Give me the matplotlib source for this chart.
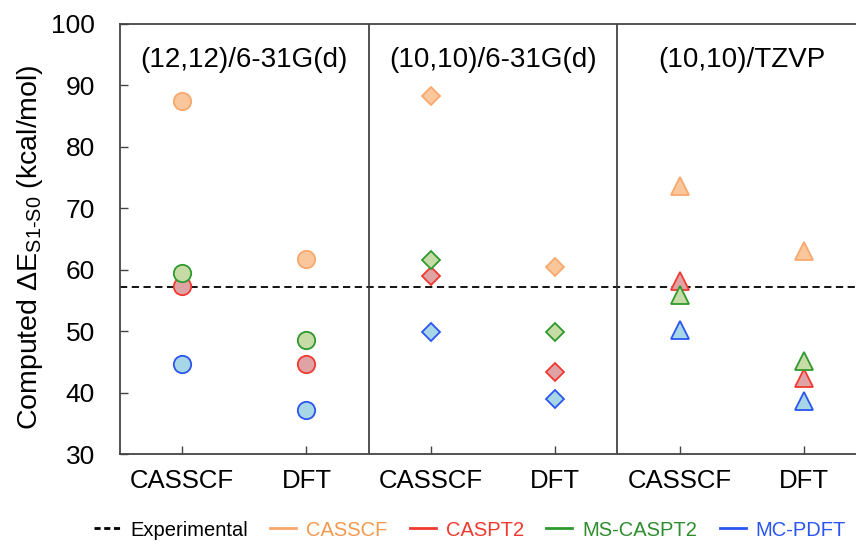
import matplotlib
matplotlib.use("Agg")
import matplotlib.pyplot as plt
from matplotlib.lines import Line2D

plt.rcParams['font.family'] = ['Liberation Sans', 'DejaVu Sans']
plt.rcParams['mathtext.fontset'] = 'custom'
plt.rcParams['mathtext.rm'] = 'Liberation Sans'
plt.rcParams['mathtext.it'] = 'Liberation Sans:italic'

# ---- data ----
categories = ['CASSCF', 'DFT', 'CASSCF', 'DFT', 'CASSCF', 'DFT']
panels = ['(12,12)/6-31G(d)', '(10,10)/6-31G(d)', '(10,10)/TZVP']
panel_markers = ['o', 'D', '^']
casscf = [87.5, 61.7, 88.2, 60.4, 73.6, 63.0]
caspt2 = [57.3, 44.6, 59.0, 43.3, 58.1, 42.4]
ms_caspt2 = [59.5, 48.6, 61.6, 49.9, 55.9, 45.1]
mc_pdft = [44.6, 37.2, 49.9, 38.9, 50.2, 38.6]
experimental = 57.2

series_names = ['CASSCF', 'CASPT2', 'MS-CASPT2', 'MC-PDFT']
series_vals = [casscf, caspt2, ms_caspt2, mc_pdft]
edge_colors = ['#F8A86C', '#F03A30', '#2E9A2E', '#2A55F0']
face_colors = ['#FAC79C', '#DFA3A6', '#C7DBA7', '#A7D7E6']
text_colors = ['#F5994F', '#F03A30', '#2E8E2E', '#2A55F0']

fig = plt.figure(figsize=(8.56, 5.44), dpi=100)
ax = fig.add_axes([0.14, 0.1654, 0.872, 0.7905])

ax.axhline(experimental, color='black', lw=1.3, ls=(0, (4, 2.5)), zorder=1)
for xv in [1.5, 3.5]:
    ax.axvline(xv, color='#333333', lw=1.2, zorder=1)

msizes = {'o': 12.5, 'D': 9.0, '^': 13.0}
for vals, ec, fc in zip(series_vals, edge_colors, face_colors):
    for p, m in enumerate(panel_markers):
        xs = [2 * p, 2 * p + 1]
        ys = [vals[2 * p], vals[2 * p + 1]]
        ax.plot(xs, ys, ls='none', marker=m, ms=msizes[m], mfc=fc, mec=ec,
                mew=1.3, zorder=3)

for p, t in enumerate(panels):
    ax.text(2 * p + 0.5, 94.1, t, ha='center', va='center', fontsize=20)

ax.set_xlim(-0.5, 5.5)
ax.set_ylim(30, 100)
ax.set_yticks(range(30, 101, 10))
ax.set_xticks(range(len(categories)))
ax.set_xticklabels(categories)
ax.tick_params(axis='y', direction='in', length=6, width=1, pad=18, labelsize=19, color='#444444')
ax.tick_params(axis='x', direction='in', length=6, width=1, pad=11, labelsize=18.5, color='#444444')
ax.spines['right'].set_visible(False)
for s in ['left', 'top', 'bottom']:
    ax.spines[s].set_color('#444444')
    ax.spines[s].set_linewidth(1.3)

ax.set_ylabel('Computed ΔE$_{\\mathregular{S1\\text{-}S0}}$ (kcal/mol)', fontsize=20.5)
ax.yaxis.set_label_coords(-0.1, 0.482)

handles = [Line2D([], [], color='black', lw=2, ls=(0, (2.2, 1.3)))]
labels = ['Experimental']
for n, ec in zip(series_names, edge_colors):
    handles.append(Line2D([], [], color=ec, lw=2))
    labels.append(n)
leg = fig.legend(handles, labels, loc='center', bbox_to_anchor=(470 / 856, 1 - 530 / 544),
                 ncol=5, frameon=False, fontsize=14.5, handlelength=1.3,
                 handletextpad=0.5, columnspacing=1.1)
for txt, c in zip(leg.get_texts(), ['black'] + text_colors):
    txt.set_color(c)

fig.savefig('out.png', dpi=100)
